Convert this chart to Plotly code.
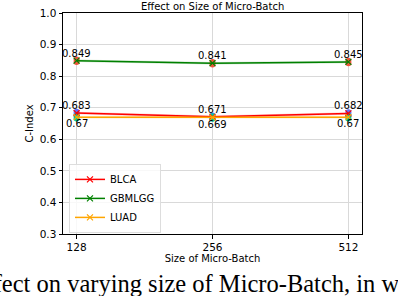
import plotly.graph_objects as go

categories = ["128", "256", "512"]
blca = [0.683, 0.671, 0.682]
gbmlgg = [0.849, 0.841, 0.845]
luad = [0.67, 0.669, 0.67]
band = [0.004, 0.004, 0.004]
y_ticks = [0.3, 0.4, 0.5, 0.6, 0.7, 0.8, 0.9, 1.0]

series = [
    ("BLCA", blca, "red", "rgba(255,0,0,0.2)"),
    ("GBMLGG", gbmlgg, "green", "rgba(0,128,0,0.2)"),
    ("LUAD", luad, "orange", "rgba(255,165,0,0.2)"),
]
x = [0, 1, 2]
font = "DejaVu Sans"
fig = go.Figure()
for name, vals, col, fill in series:
    upper = [v + b for v, b in zip(vals, band)]
    lower = [v - b for v, b in zip(vals, band)]
    fig.add_trace(go.Scatter(x=x + x[::-1], y=upper + lower[::-1], fill="toself",
                             fillcolor=fill, line=dict(width=0), showlegend=False,
                             hoverinfo="skip"))
for name, vals, col, fill in series:
    fig.add_trace(go.Scatter(x=x, y=vals, mode="lines+markers", name=name,
                             line=dict(color=col, width=1.5),
                             marker=dict(symbol="x-thin", size=6, line=dict(color=col, width=1.2))))
# value labels
for name, vals, col, fill in series:
    below = name == "LUAD"
    for xi, v in zip(x, vals):
        fig.add_annotation(x=xi, y=v, text=f"{v:g}", showarrow=False,
                           yanchor="top" if below else "bottom",
                           yshift=1 if below else 0,
                           font=dict(family=font, size=10, color="black"))

fig.add_annotation(xref="paper", yref="paper", x=0.5, y=1.0, yanchor="bottom", yshift=-1,
                   text="Effect on Size of Micro-Batch", showarrow=False,
                   font=dict(family=font, size=10, color="black"))
fig.add_annotation(xref="paper", yref="paper", x=-94/299, y=-65/221, xanchor="left", yanchor="bottom",
                   text="Effect on varying size of Micro-Batch, in w", showarrow=False,
                   font=dict(family="Liberation Serif", size=24.5, color="black"))

fig.update_layout(
    width=398, height=296,
    margin=dict(l=63, r=36, t=13, b=62),
    paper_bgcolor="white", plot_bgcolor="white",
    font=dict(family=font, size=10, color="black"),
    legend=dict(x=0.02, y=0.005, xanchor="left", yanchor="bottom",
                bgcolor="rgba(255,255,255,0.8)", bordercolor="#dddddd", borderwidth=1,
                font=dict(family=font, size=10), tracegroupgap=0, itemwidth=30),
    xaxis=dict(range=[-0.1, 2.1], tickmode="array", tickvals=x, ticktext=categories,
               showgrid=True, gridcolor="#d9d9d9", gridwidth=1, automargin=False,
               showline=True, linecolor="black", linewidth=1, mirror=True,
               ticks="outside", ticklen=3.5, tickcolor="black", zeroline=False,
               tickfont=dict(family=font, size=10.5),
               title=dict(text="Size of Micro-Batch", font=dict(family=font, size=10), standoff=2)),
    yaxis=dict(range=[0.3, 1.0], tickmode="array", tickvals=y_ticks,
               ticktext=[f"{t:.1f}" for t in y_ticks],
               showgrid=True, gridcolor="#d9d9d9", gridwidth=1, automargin=False,
               showline=True, linecolor="black", linewidth=1, mirror=True,
               ticks="outside", ticklen=3.5, tickcolor="black", zeroline=False,
               tickfont=dict(family=font, size=10.5),
               title=dict(text="C-Index", font=dict(family=font, size=10), standoff=4)),
)
fig.write_html("out.html", config={"displayModeBar": False},
               post_script="document.body.style.margin='0px';")
